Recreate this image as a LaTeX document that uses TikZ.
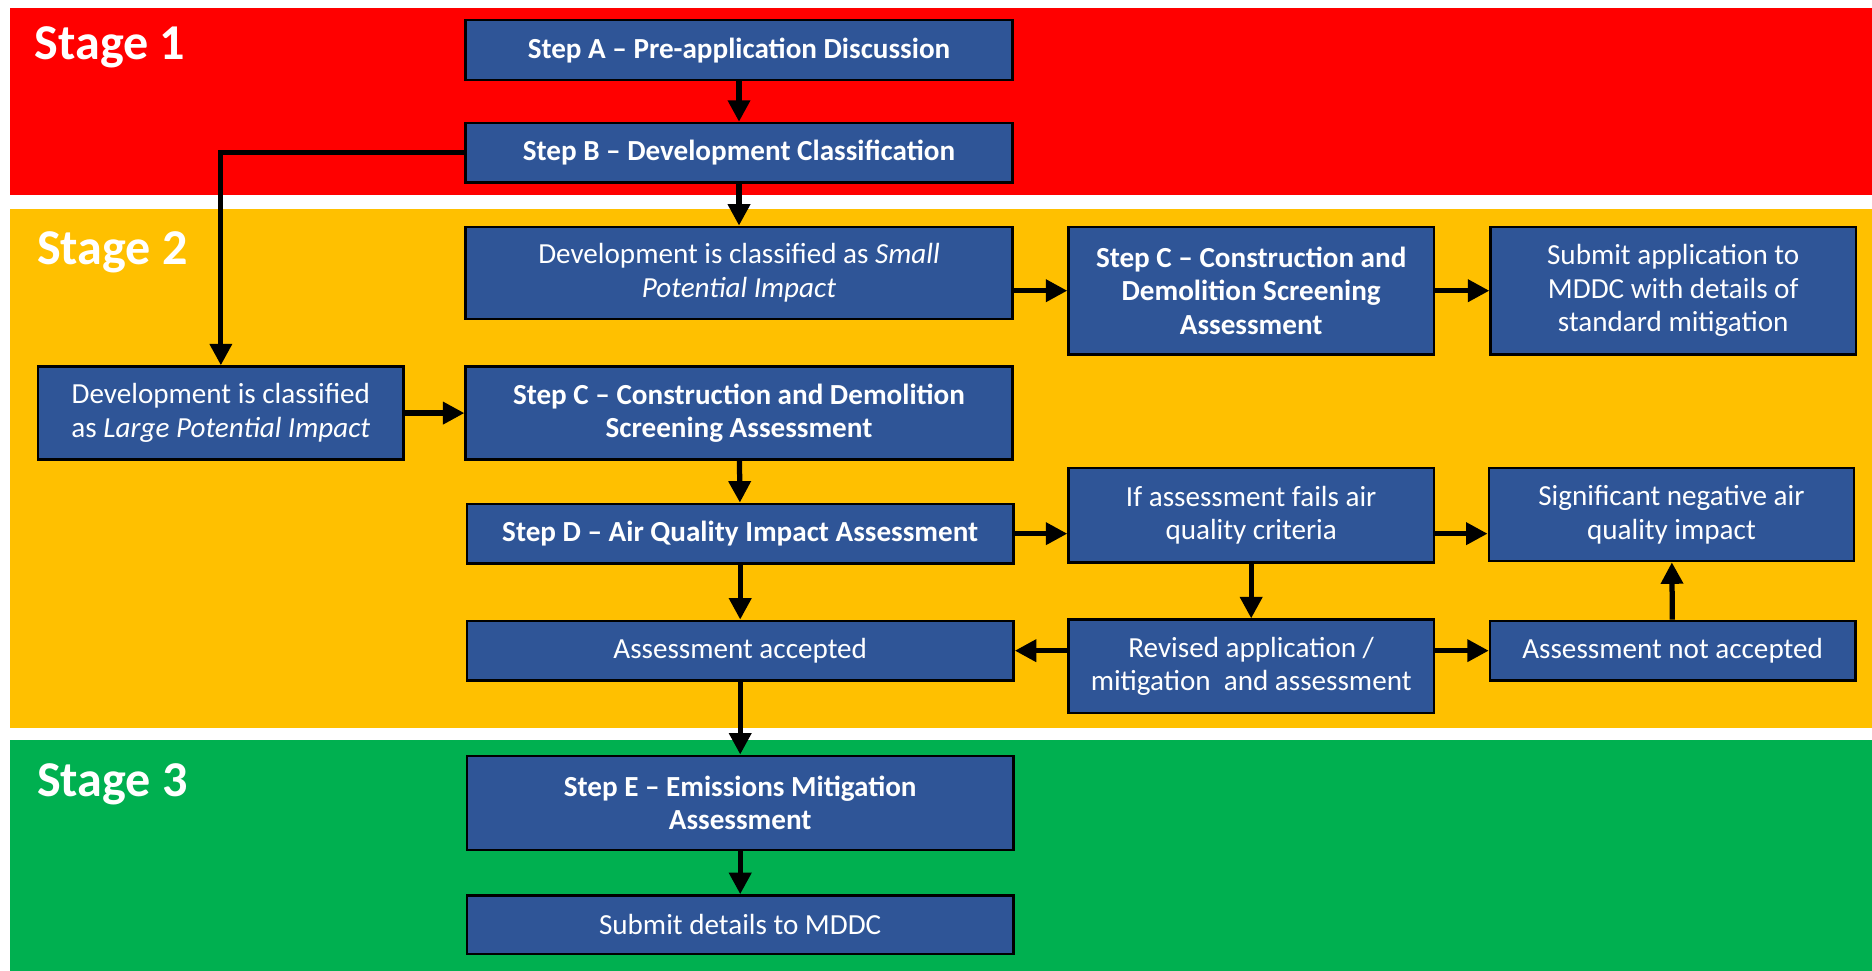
\documentclass[tikz,border=0pt]{standalone}
\usepackage{fontspec}
\setmainfont{Carlito}
\usetikzlibrary{arrows.meta}
\definecolor{stagered}{RGB}{255,0,0}
\definecolor{stageyellow}{RGB}{255,192,0}
\definecolor{stagegreen}{RGB}{0,176,80}
\definecolor{boxblue}{RGB}{47,85,151}
\begin{document}
\begin{tikzpicture}[x=0.5pt,y=-0.5pt,
  box/.style={draw=black,line width=1pt,fill=boxblue,text=white,align=center,
    inner sep=2pt,font=\fontsize{12.2}{14}\selectfont},
  wide/.style={box,minimum width=229pt},
  narrow/.style={box,minimum width=153pt},
  stagelabel/.style={anchor=west,text=white,font=\fontsize{21}{25}\selectfont\bfseries},
  flow/.style={line width=2.2pt,-{Triangle[length=9pt,width=9pt]}}
]
    \useasboundingbox[fill=white] (0,0) rectangle (1568,813);
    \fill[stagered] (8,7) rectangle (1568,163);
    \fill[stageyellow] (8,175) rectangle (1568,610);
    \fill[stagegreen] (8,620) rectangle (1568,813);
    \node[stagelabel] (s1) at (22,40) {Stage 1};
    \node[stagelabel] (s2) at (24,211) {Stage 2};
    \node[stagelabel] (s3) at (24,657) {Stage 3};
    \node[wide,minimum height=25pt] (stepA) at (619,42) {\bfseries Step A – Pre-application Discussion};
    \node[wide,minimum height=25pt] (stepB) at (619,128) {\bfseries Step B – Development Classification};
    \node[wide,minimum height=38.5pt] (small) at (619,228.5) {Development is classified as \emph{Small}\\\emph{Potential Impact}};
    \node[narrow,minimum height=53.5pt] (stepC1) at (1048,243.5) {\bfseries Step C – Construction and\\\bfseries Demolition Screening\\\bfseries Assessment};
    \node[narrow,minimum height=53.5pt] (submitA) at (1401.5,243.5) {Submit application to\\MDDC with details of\\standard mitigation};
    \node[narrow,minimum height=39pt] (large) at (185,346) {Development is classified\\as \emph{Large Potential Impact}};
    \node[wide,minimum height=39pt] (stepC2) at (619,346) {\bfseries Step C – Construction and Demolition\\\bfseries Screening Assessment};
    \node[wide,minimum height=25pt] (stepD) at (620,447) {\bfseries Step D – Air Quality Impact Assessment};
    \node[narrow,minimum height=39.5pt] (fails) at (1048,431.5) {If assessment fails air\\quality criteria};
    \node[narrow,minimum height=39pt] (signif) at (1400,431) {Significant negative air\\quality impact};
    \node[wide,minimum height=25pt] (accepted) at (620,545) {Assessment accepted};
    \node[narrow,minimum height=39pt] (revised) at (1048,558) {Revised application /\\mitigation~ and assessment};
    \node[narrow,minimum height=25pt] (notacc) at (1401,545) {Assessment not accepted};
    \node[wide,minimum height=39.5pt] (stepE) at (620,672.5) {\bfseries Step E – Emissions Mitigation\\\bfseries Assessment};
    \node[wide,minimum height=24.5pt] (submitD) at (620,774.5) {Submit details to MDDC};
    \draw[flow] (stepA) -- (stepB);
    \draw[flow] (stepB) -- (small);
    \draw[flow] (stepB.west) -| (large.north);
    \draw[flow] (large) -- (stepC2);
    \draw[flow] (stepC1.west -| small.east) -- (stepC1.west);
    \draw[flow] (stepC1) -- (submitA);
    \draw[flow] (stepC2) -- (stepD);
    \draw[flow] (stepD.east) -- (stepD.east -| fails.west);
    \draw[flow] (stepD.east -| fails.east) -- (stepD.east -| signif.west);
    \draw[flow] (stepD) -- (accepted);
    \draw[flow] (fails) -- (revised);
    \draw[flow] (revised.west |- accepted.east) -- (accepted.east);
    \draw[flow] (revised.east |- notacc.west) -- (notacc.west);
    \draw[flow] (notacc) -- (signif);
    \draw[flow] (accepted) -- (stepE);
    \draw[flow] (stepE) -- (submitD);
\end{tikzpicture}
\end{document}
